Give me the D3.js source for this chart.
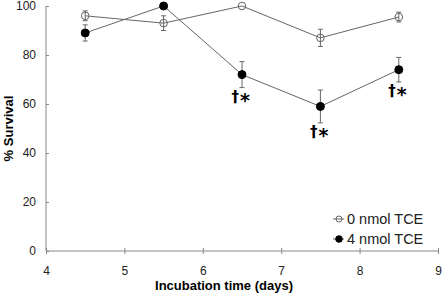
<!DOCTYPE html>
<html>
<head>
<meta charset="utf-8">
<script src="https://cdn.jsdelivr.net/npm/d3@7"></script>
<style>
  body { margin: 0; background: #fff; }
  svg { display: block; font-family: "Liberation Sans", Arial, sans-serif; }
</style>
</head>
<body>
<div id="chart"></div>
<script>
const days = [4.5, 5.5, 6.5, 7.5, 8.5];
const control = [96, 93, 100, 87, 95.5];
const controlErr = [2, 3, 0, 3.5, 2];
const treated = [89, 100, 72, 59, 74];
const treatedErr = [3.3, 0, 5.3, 6.7, 5];
const marks = [false, false, true, true, true];
const xTicks = [4, 5, 6, 7, 8, 9];
const yTicks = [0, 20, 40, 60, 80, 100];

const width = 442, height = 295;
const margin = { top: 6, right: 4, bottom: 44, left: 46 };

const svg = d3.select('#chart').append('svg')
  .attr('width', width)
  .attr('height', height);

const x = d3.scaleLinear().domain([4, 9]).range([margin.left, 438]);
const y = d3.scaleLinear().domain([0, 100]).range([251, margin.top]);

const axisColor = '#888';
const lineColor = '#666';

// axes
const xAxis = svg.append('g')
  .attr('transform', `translate(0,${y(0)})`)
  .call(d3.axisBottom(x).tickValues(xTicks).tickSize(3).tickPadding(12).tickFormat(d3.format('d')));
xAxis.selectAll('.tick line').attr('y1', -3);
const yAxis = svg.append('g')
  .attr('transform', `translate(${x(4)},0)`)
  .call(d3.axisLeft(y).tickValues(yTicks).tickSize(4).tickPadding(6));
yAxis.selectAll('.tick line').attr('x2', 3);
svg.selectAll('.domain, .tick line').attr('stroke', axisColor);
svg.selectAll('.tick text').attr('fill', '#222').style('font-size', '12px');
xAxis.selectAll('.domain').attr('d', `M${x(4)},0H${x(9)}`);
yAxis.selectAll('.domain').attr('d', `M0,${y(0)}V${y(100)}`);

svg.append('text')
  .attr('x', 224)
  .attr('y', 290)
  .attr('text-anchor', 'middle')
  .style('font-size', '13px')
  .style('font-weight', 'bold')
  .text('Incubation time (days)');

svg.append('text')
  .attr('transform', `translate(13,${(y(0) + y(100)) / 2}) rotate(-90)`)
  .attr('text-anchor', 'middle')
  .style('font-size', '13px')
  .style('font-weight', 'bold')
  .text('% Survival');

const line = d3.line().x(d => x(d[0])).y(d => y(d[1]));

function drawSeries(vals, errs, filled) {
  const pts = days.map((d, i) => [d, vals[i], errs[i]]);
  svg.append('path')
    .datum(pts)
    .attr('d', line)
    .attr('fill', 'none')
    .attr('stroke', lineColor)
    .attr('stroke-width', 1);
  const g = svg.append('g');
  pts.filter(p => p[2] > 0).forEach(p => {
    const cx = x(p[0]);
    g.append('path')
      .attr('d', `M${cx},${y(p[1] - p[2])}V${y(p[1] + p[2])}M${cx - 2.5},${y(p[1] - p[2])}H${cx + 2.5}M${cx - 2.5},${y(p[1] + p[2])}H${cx + 2.5}`)
      .attr('stroke', lineColor)
      .attr('fill', 'none');
  });
  g.selectAll('circle').data(pts).enter().append('circle')
    .attr('cx', d => x(d[0]))
    .attr('cy', d => y(d[1]))
    .attr('r', filled ? 4 : 3.8)
    .attr('fill', filled ? '#000' : '#fff')
    .attr('fill-opacity', filled ? 1 : 0)
    .attr('stroke', filled ? '#000' : lineColor)
    .attr('stroke-width', 1);
}

drawSeries(control, controlErr, false);
drawSeries(treated, treatedErr, true);

// significance marks
const sig = svg.selectAll('g.sig')
  .data(days.map((d, i) => [d, treated[i] - treatedErr[i], marks[i]]).filter(d => d[2]))
  .enter().append('g')
  .attr('class', 'sig')
  .attr('transform', d => `translate(${x(d[0])},${y(d[1]) + 14})`)
  .style('font-family', '"DejaVu Sans", sans-serif')
  .style('font-weight', 'bold')
  .attr('fill', '#000');
sig.append('text')
  .attr('x', -3)
  .attr('text-anchor', 'end')
  .style('font-size', '15px')
  .text('†');
sig.append('text')
  .attr('x', -2)
  .attr('dy', 5)
  .style('font-size', '19px')
  .text('*');

// legend
const legendItems = [['0 nmol TCE', false], ['4 nmol TCE', true]];
const lg = svg.selectAll('g.legend').data(legendItems).enter().append('g')
  .attr('class', 'legend')
  .attr('transform', (d, i) => `translate(333,${219 + i * 20})`);
lg.append('line')
  .attr('x1', 0).attr('x2', 11)
  .attr('stroke', lineColor);
lg.append('circle')
  .attr('cx', 6).attr('r', d => d[1] ? 3.3 : 3)
  .attr('fill', d => d[1] ? '#000' : '#fff')
  .attr('fill-opacity', d => d[1] ? 1 : 0)
  .attr('stroke', d => d[1] ? '#000' : lineColor);
lg.append('text')
  .attr('x', 14)
  .attr('dy', '0.36em')
  .style('font-size', '14.5px')
  .attr('fill', '#222')
  .text(d => d[0]);
</script>
</body>
</html>
